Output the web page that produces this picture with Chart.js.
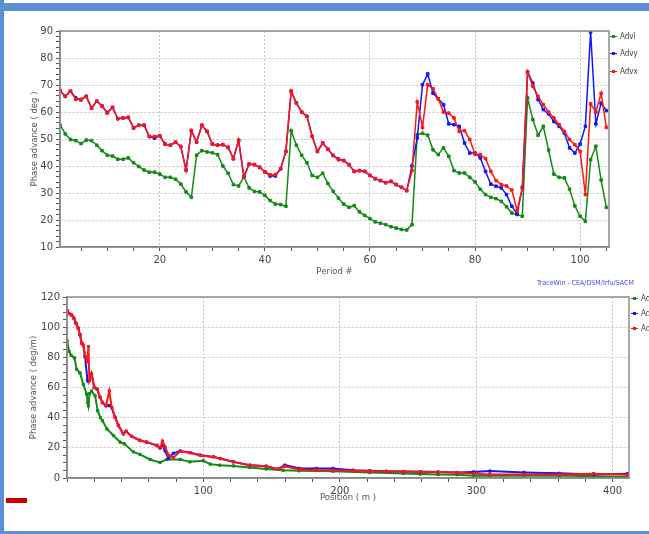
<!DOCTYPE html>
<html>
<head>
<meta charset="utf-8">
<script src="https://cdn.jsdelivr.net/npm/chart.js@4.4.0/dist/chart.umd.min.js"></script>
<style>
  html, body { margin: 0; padding: 0; background: #fff; }
  body { width: 649px; height: 534px; position: relative; overflow: hidden; font-family: "DejaVu Sans", sans-serif; }
  .bar { position: absolute; background: #5a8fd3; }
  .wrap { position: absolute; left: 0; }
  .lg { position: absolute; font: 8px "DejaVu Sans Condensed", "DejaVu Sans", sans-serif; color: #444; line-height: 10px; white-space: nowrap; }
  .lg .m { display: inline-block; position: relative; width: 7px; height: 1.5px; vertical-align: middle; margin-right: 3px; }
  .lg .m::after { content: ""; position: absolute; left: 2px; top: -1px; width: 3px; height: 3px; background: inherit; }
  #credit { position: absolute; left: 537px; top: 279px; font: 7px "DejaVu Sans Condensed", sans-serif; color: #4646ff; white-space: nowrap; }
  #redMark { position: absolute; left: 6px; top: 498px; width: 21px; height: 5px; background: #cc0000; }
</style>
</head>
<body>
<div class="bar" style="left:0;top:3px;width:649px;height:8px"></div>
<div class="bar" style="left:0;top:0;width:4px;height:534px"></div>
<div class="bar" style="left:0;top:531px;width:649px;height:3px"></div>

<div class="wrap" style="top:0;width:649px;height:290px"><canvas id="topChart" width="649" height="290"></canvas></div>
<div class="wrap" style="top:288px;width:649px;height:246px"><canvas id="botChart" width="649" height="246"></canvas></div>

<div class="lg" style="left:610px;top:32px"><span class="m" style="background:#138a13"></span>Advl</div>
<div class="lg" style="left:610px;top:49px"><span class="m" style="background:#1515ff"></span>Advy</div>
<div class="lg" style="left:610px;top:67px"><span class="m" style="background:#ff1414"></span>Advx</div>

<div class="lg" style="left:631px;top:294px"><span class="m" style="background:#138a13"></span>Advl</div>
<div class="lg" style="left:631px;top:309px"><span class="m" style="background:#1515ff"></span>Advy</div>
<div class="lg" style="left:631px;top:324px"><span class="m" style="background:#ff1414"></span>Advx</div>

<div id="credit">TraceWin - CEA/DSM/Irfu/SACM</div>
<div id="redMark"></div>

<script>
// Phase advance per period (deg)
const advl = [55.3, 51.9, 49.8, 49.4, 48.3, 49.6, 49.4, 47.7, 45.7, 44, 43.7, 42.5, 42.5, 43, 41.2, 39.8, 38.5, 37.7, 37.7, 37,
  35.8, 35.8, 35.1, 33.3, 30.4, 28.4, 44, 45.7, 45.2, 44.9, 44.2, 40, 37.3, 33.1, 32.6, 36, 31.9, 30.6, 30.4, 29.1,
  27.2, 25.9, 25.7, 25.1, 53.1, 47.7, 44, 41.2, 36.5, 35.8, 37.3, 33.5, 30.6, 28.1, 25.9, 24.7, 25.3, 23, 21.7, 20.5,
  19.3, 18.8, 18.3, 17.5, 17, 16.5, 16.3, 18.3, 51.6, 52.1, 51.4, 46, 44.2, 46.7, 43.6, 38.3, 37.4, 37.4, 35.8, 34.1,
  31.4, 29.4, 28.4, 27.9, 26.9, 24.9, 22.6, 22, 21.4, 65.2, 57.2, 51.4, 54.7, 45.9, 37, 35.8, 35.6, 31.4, 25.2, 21.4,
  19.5, 42.3, 47.3, 34.8, 24.7];

const advy = [67.9, 65.8, 67.7, 65.2, 64.5, 65.8, 61.5, 64, 62.2, 59.8, 61.7, 57.5, 57.8, 58, 54.1, 55.1, 55.1, 50.9, 50.3, 51.2,
  48.1, 47.7, 48.8, 47.2, 38.5, 53.1, 48.9, 55.1, 52.8, 48.1, 47.7, 47.9, 46.9, 42.7, 49.5, 36, 40.7, 40.5, 39.5, 37.8,
  36.3, 36.3, 39, 45.4, 67.7, 63.3, 60, 58.4, 51, 45.4, 48.5, 46.2, 43.9, 42.6, 42, 40.5, 38, 38.3, 38, 36.5,
  35.3, 34.6, 33.8, 34.3, 33.1, 32.1, 30.9, 40, 50.4, 70.1, 74.1, 67, 64.9, 62.7, 55.6, 55.3, 54.7, 48.5, 44.8, 44.8,
  43, 38, 33.3, 32.5, 31.9, 29.4, 25.1, 22.2, 32.1, 74.8, 70.7, 64.6, 60.9, 59.3, 56.5, 54.7, 52.2, 46.7, 44.8, 48.1,
  54.7, 89.6, 55.6, 63.3, 60.5];

const advx = [67.9, 65.8, 67.7, 64.7, 64.7, 65.8, 61.5, 64, 62.2, 59.6, 61.7, 57.5, 57.8, 58, 54.1, 55.1, 55.1, 50.9, 50.9, 51.2,
  48.1, 47.7, 48.8, 47.2, 38.5, 53.1, 48.9, 55.1, 52.8, 48.1, 47.7, 47.9, 46.9, 42.7, 49.5, 36, 40.7, 40.5, 39.5, 37.8,
  36.8, 36.8, 39, 45.4, 67.7, 63.3, 60, 58.4, 51, 45.4, 48.5, 46.2, 43.9, 42.3, 42, 40.5, 38, 38.3, 38, 36.5,
  35.3, 34.6, 33.8, 34.3, 33.1, 32.1, 30.9, 38.3, 63.7, 54.3, 70.1, 68.6, 64.9, 60, 59.6, 57.8, 52.8, 53.1, 49.8, 44.4,
  44.2, 42.7, 38, 34.6, 33.1, 32.6, 31.1, 23.5, 31.6, 74.8, 69.5, 65.8, 62.7, 60, 57.8, 55.3, 52.8, 49.8, 47.9, 45.4,
  29.4, 63, 60, 66.9, 54.3];

const periods = advx.map((_, i) => i + 1);

// Phase advance along the linac (deg/m)
const posL = [0.1, 1.5, 3, 5.5, 7.1, 9.5, 12, 14.4, 15.2, 15.7, 16.5, 18, 20.6, 22.5, 24.5, 26, 29.3, 34, 39, 42,
  48.7, 53.5, 60.9, 68.2, 73.1, 83, 90.2, 100, 105, 112, 122, 134, 146, 158.5, 170, 195, 222, 246.8, 259, 272,
  286, 298, 310, 335, 361, 386, 411];
const advlM = [91, 84, 81.3, 79.6, 72, 69.7, 62, 55.6, 50, 47.9, 56, 57.7, 54.5, 44.6, 40, 38, 32.5, 28.2, 23.8, 22.7,
  17.3, 15.7, 12.3, 10.3, 12.3, 12.3, 10.7, 11.4, 9.2, 8.5, 8, 7, 6, 5.1, 4.8, 4.5, 3.6, 3, 2.6, 2.4,
  2.2, 1.5, 1.5, 1.5, 1.7, 1.1, 0.7];

const posT = [0.1, 1.5, 3.4, 5, 6.6, 8.3, 9.5, 10.8, 12, 13.2, 15, 15.7, 16.4, 18, 20, 22, 24.2, 26, 28.6, 31,
  32.8, 35.3, 37.7, 41.3, 43.3, 47.4, 53.5, 58.4, 65.8, 68.2, 70, 71.9, 74.4, 78, 83, 90.2, 97.6, 107.4, 112.3, 122,
  134, 146, 154.8, 159.7, 170.6, 182.8, 195, 209.7, 222, 234, 246.8, 259, 272, 286, 298, 310, 335, 361, 386, 411];
const advyM = [111, 109, 108, 106, 102.6, 99.2, 95, 89.4, 88, 80.6, 64.7, 64, 64.7, 69, 60, 59, 53.6, 50, 47.9, 48,
  46.7, 40.2, 34.8, 29.3, 31, 27.6, 24.9, 23.8, 21.6, 19.9, 22, 18, 12.9, 16.4, 17.9, 16.8, 15.1, 14, 12.9, 10.7,
  8.5, 7.8, 5.9, 8.5, 6.3, 6.3, 6.3, 5.2, 4.8, 4.5, 4.3, 4.1, 4, 3.6, 4, 4.6, 3.7, 3.1, 2.4, 2.9];
const advxM = [111, 109, 108, 106, 102.6, 99.2, 95, 89.4, 88, 80.6, 77.4, 87.2, 64.7, 69, 60, 59, 53.6, 50, 47.9, 57.7,
  46.7, 40.2, 34.8, 29.3, 31, 27.6, 24.9, 23.8, 21.6, 19.9, 24.5, 20.6, 15.1, 13.5, 17.7, 16.8, 15.1, 14, 12.9, 10.7,
  8.5, 7.8, 5.9, 7.8, 5.6, 5.2, 5.2, 4.8, 4.5, 4.3, 4.3, 4.1, 4, 3.6, 2.9, 2.4, 2.4, 2.4, 2.9, 2.2];

const GREEN = "#138a13", BLUE = "#1515ff", RED = "#ff1414";
const tickFont = { family: "DejaVu Sans", size: 10 };
const titleFont = { family: "DejaVu Sans", size: 8.5 };

// Gray frame round the plot area
const frame = {
  id: "frame",
  afterDraw(chart) {
    const { ctx, chartArea: a } = chart;
    ctx.save();
    ctx.strokeStyle = "#8c8c8c";
    ctx.lineWidth = 1.5;
    ctx.strokeRect(a.left, a.top, a.right - a.left, a.bottom - a.top);
    ctx.restore();
  }
};

function series(label, xs, ys, color, width, radius) {
  return {
    label,
    data: xs.map((x, i) => ({ x, y: ys[i] })),
    borderColor: color,
    backgroundColor: color,
    borderWidth: width,
    pointStyle: "rect",
    pointRadius: radius,
    pointBorderWidth: 1,
    tension: 0
  };
}

function axes(xOpt, yOpt) {
  return {
    x: {
      type: "linear",
      min: xOpt.min, max: xOpt.max,
      afterFit: s => { s.height = xOpt.height; },
      ticks: {
        stepSize: xOpt.step, includeBounds: false, autoSkip: false, maxRotation: 0,
        padding: 3, color: "#444", font: tickFont,
        callback: v => (v !== 0 && v % xOpt.major === 0 ? v : "")
      },
      grid: {
        color: c => (c.tick && c.tick.value % xOpt.major === 0 ? "#c4c4c4" : "rgba(0,0,0,0)"),
        tickColor: "#555", tickLength: 4
      },
      border: { color: "#7a7a7a", width: 1.5, dash: [2, 2] },
      title: { display: true, text: xOpt.title, color: "#555", font: titleFont, padding: { bottom: xOpt.titlePad } }
    },
    y: {
      min: yOpt.min, max: yOpt.max,
      afterFit: s => { s.width = yOpt.width; },
      ticks: {
        stepSize: yOpt.step, autoSkip: false, padding: 3, color: "#444", font: tickFont,
        callback: v => (v % yOpt.major === 0 ? v : "")
      },
      grid: {
        color: c => (c.tick && c.tick.value % yOpt.major === 0 ? "#c4c4c4" : "rgba(0,0,0,0)"),
        tickColor: "#555", tickLength: 4
      },
      border: { color: "#7a7a7a", width: 1.5, dash: [2, 2] },
      title: { display: true, text: yOpt.title, color: "#555", font: titleFont, padding: { top: yOpt.titlePad } }
    }
  };
}

new Chart(document.getElementById("topChart"), {
  type: "line",
  data: {
    datasets: [
      series("Advx", periods, advx, RED, 1.5, 1.8),
      series("Advy", periods, advy, BLUE, 1.5, 1.8),
      series("Advl", periods, advl, GREEN, 1.5, 1.8)
    ]
  },
  options: {
    responsive: false,
    animation: false,
    layout: { padding: { left: 0, right: 40, top: 31, bottom: 0 } },
    plugins: { legend: { display: false }, tooltip: { enabled: false } },
    scales: axes(
      { min: 1, max: 105.5, step: 5, major: 20, height: 43, title: "Period #", titlePad: 13 },
      { min: 10, max: 90, step: 2, major: 10, width: 60, title: "Phase advance ( deg )", titlePad: 30 }
    )
  },
  plugins: [frame]
});

new Chart(document.getElementById("botChart"), {
  type: "line",
  data: {
    datasets: [
      series("Advx", posT, advxM, RED, 2, 1.6),
      series("Advy", posT, advyM, BLUE, 2, 1.6),
      series("Advl", posL, advlM, GREEN, 2, 1.6)
    ]
  },
  options: {
    responsive: false,
    animation: false,
    layout: { padding: { left: 0, right: 20, top: 7, bottom: 0 } },
    plugins: { legend: { display: false }, tooltip: { enabled: false } },
    scales: axes(
      { min: 0, max: 412, step: 20, major: 100, height: 56, title: "Position ( m )", titlePad: 31 },
      { min: 0, max: 120, step: 5, major: 20, width: 67, title: "Phase advance ( deg/m)", titlePad: 29 }
    )
  },
  plugins: [frame]
});
</script>
</body>
</html>
